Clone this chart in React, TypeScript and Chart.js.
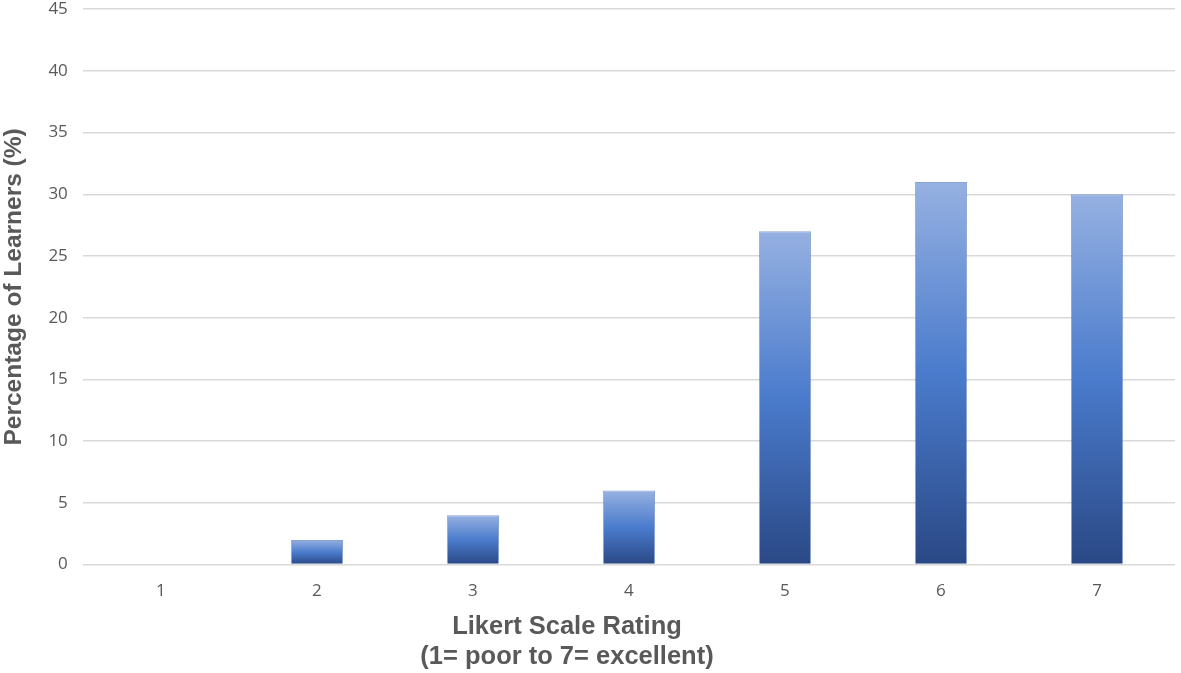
import React, { useEffect, useRef } from "react";
import { Chart, registerables } from "chart.js";

Chart.register(...registerables);

const categories = ["1", "2", "3", "4", "5", "6", "7"];
const percentages = [0, 2, 4, 6, 27, 31, 30];
const yTitle = "Percentage of Learners (%)";
const xTitle = ["Likert Scale Rating", "(1= poor to 7= excellent)"];

const xTitlePlugin = {
  id: "xTitleBelow",
  afterDraw(chart: any) {
    const ctx = chart.ctx;
    ctx.save();
    ctx.font = "bold 25.5px 'Liberation Sans', Arial, sans-serif";
    ctx.fillStyle = "#595959";
    ctx.textAlign = "center";
    ctx.textBaseline = "middle";
    const cx = 567;
    const h = chart.height;
    ctx.fillText(xTitle[0], cx, h - 46);
    ctx.fillText(xTitle[1], cx, h - 16);
    ctx.restore();
  },
};

export default function App() {
  const ref = useRef<HTMLCanvasElement | null>(null);
  useEffect(() => {
    if (!ref.current) return;
    const chart = new Chart(ref.current, {
      type: "bar",
      data: {
        labels: categories,
        datasets: [
          {
            data: percentages,
            backgroundColor: (c: any) => {
              const ch = c.chart;
              if (c.type !== "data" || !ch.scales || !ch.scales.y) return "#4472C4";
              const y = ch.scales.y;
              const top = y.getPixelForValue(c.raw);
              const base = y.getPixelForValue(0);
              if (!isFinite(top) || !isFinite(base) || base - top < 1) return "#4472C4";
              const g = ch.ctx.createLinearGradient(0, top, 0, base);
              g.addColorStop(0, "#96B1E2");
              g.addColorStop(0.5, "#4A7BCC");
              g.addColorStop(1, "#2A4885");
              return g;
            },
            borderColor: "rgba(60,100,180,0.6)",
            borderWidth: 1,
            barPercentage: 1,
            categoryPercentage: 0.335,
          },
        ],
      },
      options: {
        animation: false,
        responsive: true,
        maintainAspectRatio: false,
        layout: { padding: { left: 0, right: 6, top: 0, bottom: 64 } },
        plugins: { legend: { display: false }, tooltip: { enabled: false } },
        scales: {
          x: {
            grid: { display: false },
            border: { display: false },
            ticks: { color: "#595959", font: { family: "Open Sans", size: 17 }, padding: 8 },
          },
          y: {
            min: 0,
            max: 45,
            ticks: { stepSize: 5, color: "#595959", font: { family: "Open Sans", size: 17 }, padding: 15 },
            grid: { color: "#D9D9D9", lineWidth: 1.5, drawTicks: false },
            border: { display: false },
            title: {
              display: true,
              text: yTitle,
              color: "#595959",
              font: { family: "Liberation Sans", size: 24.5, weight: "bold" },
              padding: { top: 0, bottom: 4 },
            },
          },
        },
      },
      plugins: [xTitlePlugin],
    });
    return () => chart.destroy();
  }, []);
  return (
    <div style={{ position: "fixed", left: 0, top: -16, width: 1181, height: 689, background: "#fff" }}>
      <canvas ref={ref} />
    </div>
  );
}
